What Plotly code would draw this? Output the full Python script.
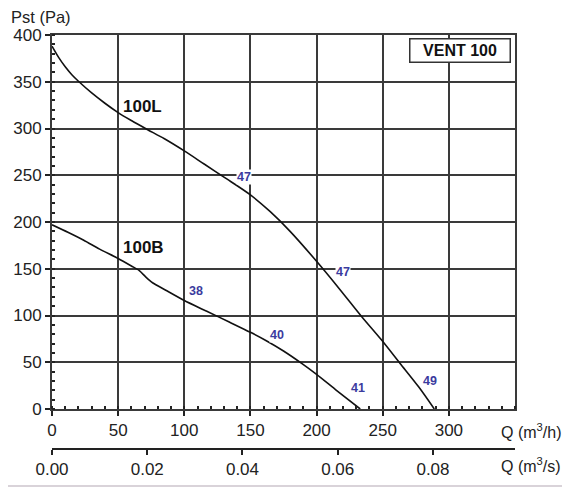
import plotly.graph_objects as go

# fan curves, Q in m3/h, Pst in Pa
q_100l = [0, 5, 10, 15, 20, 30, 40, 50, 60, 72, 85, 100, 115, 130, 150, 165, 180, 200, 217, 234, 249, 263, 277, 289]
p_100l = [388, 376, 366, 357.5, 350.5, 338, 327, 317, 308.5, 299, 289, 276, 262, 248, 229, 211, 190, 158, 129, 99, 74, 49, 24, 0]

q_100b = [0, 12, 24, 36, 50, 60, 66, 71, 76, 86, 100, 117, 134, 150, 162, 175, 189, 200, 215, 233]
p_100b = [197, 189, 180.5, 171, 161, 153, 148, 141, 135, 127, 116, 104.5, 93, 82, 73, 62, 48.5, 37, 20, 0]

# curve names
curve_names = ["100L", "100B"]
curve_name_q = [52, 52]
curve_name_p = [324, 173]

# sound level marks (dB(A))
db_text = ["47", "47", "49", "38", "40", "41"]
db_q = [145, 220, 286, 108.5, 170, 231]
db_p = [248.5, 146, 30, 126.5, 79, 23]

q_ticks = [0, 50, 100, 150, 200, 250, 300]
qs_ticks = [0.0, 0.02, 0.04, 0.06, 0.08]
p_ticks = [0, 50, 100, 150, 200, 250, 300, 350, 400]

FONT = "Liberation Sans, Arial, sans-serif"
GRID = "#3a3a3a"
OFF = 8  # page margin of the html body
W, H = 562, 480
L, R, T, B = 44, 55, 27, 39
plot_bottom = 409
pw, ph = W - L - R, H - T - B


# page pixels -> paper coords
def px(x):
    return (x - OFF - L) / pw


def py(y):
    return (H - B - (y - OFF)) / ph


fig = go.Figure()
fig.add_trace(go.Scatter(x=q_100l, y=p_100l, mode="lines",
                         line=dict(color="#111", width=1.6, shape="spline", smoothing=0.9),
                         hoverinfo="skip"))
fig.add_trace(go.Scatter(x=q_100b, y=p_100b, mode="lines",
                         line=dict(color="#111", width=1.6, shape="spline", smoothing=0.7),
                         hoverinfo="skip"))
# invisible trace so the m3/s axis shows
fig.add_trace(go.Scatter(x=[0, 0.08], y=[0, 0], xaxis="x2", mode="markers",
                         marker=dict(opacity=0), hoverinfo="skip"))

for name, q, p in zip(curve_names, curve_name_q, curve_name_p):
    fig.add_annotation(x=q, y=p, text="<b>" + name + "</b>", showarrow=False,
                       xanchor="left", yanchor="middle",
                       font=dict(family=FONT, size=17, color="#111"))

for t, q, p in zip(db_text, db_q, db_p):
    fig.add_annotation(x=q, y=p, text="<b>" + t + "</b>", showarrow=False,
                       xanchor="center", yanchor="middle",
                       bgcolor="white", borderpad=0,
                       font=dict(family=FONT, size=12.5, color="#3b3b9e"))

fig.add_annotation(x=px(459.5), y=py(51), xref="paper", yref="paper", text="<b>VENT 100</b>",
                   showarrow=False, xanchor="center", yanchor="middle",
                   bgcolor="white", bordercolor="#333", borderwidth=1.5,
                   width=97, height=20, borderpad=1,
                   font=dict(family=FONT, size=16, color="#111"))

fig.add_annotation(x=px(9), y=py(17), xref="paper", yref="paper", text="Pst (Pa)",
                   showarrow=False, xanchor="left", yanchor="middle",
                   font=dict(family=FONT, size=16.5, color="#222"))
fig.add_annotation(x=px(499), y=py(431), xref="paper", yref="paper", text="Q (m<sup>3</sup>/h)",
                   showarrow=False, xanchor="left", yanchor="middle",
                   font=dict(family=FONT, size=16, color="#222"))
fig.add_annotation(x=px(499), y=py(465), xref="paper", yref="paper", text="Q (m<sup>3</sup>/s)",
                   showarrow=False, xanchor="left", yanchor="middle",
                   font=dict(family=FONT, size=16, color="#222"))

# light frame at right and bottom of the picture
fig.add_shape(type="path", xref="paper", yref="paper",
              path="M %f %f L %f %f L %f %f" % (px(568), py(8), px(568), py(486), px(8), py(486)),
              line=dict(color="#d9d3d9", width=2), layer="above")

tickfont = dict(family=FONT, size=17, color="#222")
fig.update_layout(
    width=W, height=H,
    margin=dict(l=L, r=R, t=T, b=B),
    paper_bgcolor="white", plot_bgcolor="white",
    showlegend=False,
    xaxis=dict(range=[0, 350], tickvals=q_ticks, anchor="y", automargin=False,
               showgrid=True, gridcolor=GRID, gridwidth=1.8,
               showline=True, linecolor=GRID, linewidth=1.8, mirror=True,
               ticks="outside", ticklen=5, tickcolor="#222", tickwidth=1.5,
               minor=dict(dtick=10, ticks="inside", ticklen=3, tickcolor="#222", showgrid=False),
               tickfont=tickfont, zeroline=False, fixedrange=True),
    yaxis=dict(range=[0, 400], tickvals=p_ticks, domain=[py(plot_bottom), 1], automargin=False,
               showgrid=True, gridcolor=GRID, gridwidth=1.8,
               showline=True, linecolor=GRID, linewidth=1.8, mirror=True,
               ticks="outside", ticklen=5, tickcolor="#222", tickwidth=1.5,
               minor=dict(dtick=10, ticks="inside", ticklen=3, tickcolor="#222", showgrid=False),
               tickfont=tickfont, zeroline=False, fixedrange=True),
    xaxis2=dict(range=[0, 350 / 3600], tickvals=qs_ticks, ticktext=["%.2f" % v for v in qs_ticks],
                overlaying="x", anchor="free", position=0, side="bottom", automargin=False,
                showgrid=False, showline=True, linecolor="#222", linewidth=1.5,
                ticks="outside", ticklen=5, tickcolor="#222", tickwidth=1.5,
                tickfont=tickfont, zeroline=False, fixedrange=True),
)

fig.write_html("out.html")
